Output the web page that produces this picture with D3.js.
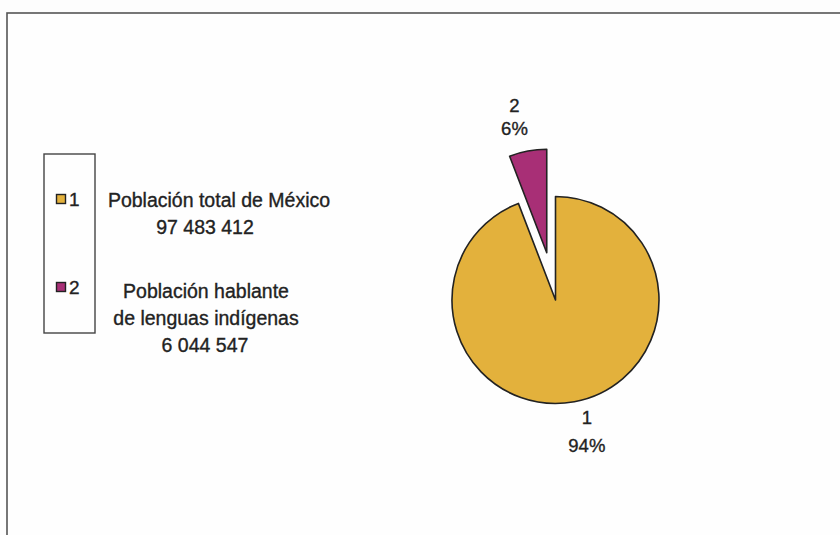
<!DOCTYPE html>
<html>
<head>
<meta charset="utf-8">
<script src="https://cdn.jsdelivr.net/npm/d3@7/dist/d3.min.js"></script>
<style>
  html, body { margin: 0; padding: 0; background: #fdfdfd; }
  svg { display: block; font-family: "Liberation Sans", Arial, sans-serif; }
  svg text { stroke: #222; stroke-width: 0.35px; }
</style>
</head>
<body>
<svg id="chart" width="840" height="535"></svg>
<script>
// Population of Mexico vs. population speaking indigenous languages
const categories = ["1", "2"];
const values = [97483412, 6044547];
const descriptions = [
  ["Población total de México"],
  ["Población hablante", "de lenguas indígenas"]
];
const colors = ["#E3B13C", "#A82F76"];

const svg = d3.select("#chart");
const ink = "#222";

// outer chart frame (open to the right and bottom edges)
svg.append("rect")
  .attr("x", 7).attr("y", 13)
  .attr("width", 860).attr("height", 560)
  .attr("fill", "#fefefe")
  .attr("stroke", "#555").attr("stroke-width", 1.6);

// ---- pie ----
const cx = 555.5, cy = 300, radius = 103.5, explode = 48;
const pie = d3.pie().sort(null).value(d => d);
const arcs = pie(values);
const arc = d3.arc().innerRadius(0).outerRadius(radius);
const pct = d3.format(".0%");
const total = d3.sum(values);

const g = svg.append("g").attr("transform", `translate(${cx},${cy})`);

function offsetFor(d, dist) {
  const a = (d.startAngle + d.endAngle) / 2;
  return [Math.sin(a) * dist, -Math.cos(a) * dist];
}

g.selectAll("path.slice")
  .data(arcs)
  .join("path")
  .attr("class", "slice")
  .attr("d", arc)
  .attr("transform", (d, i) => {
    const [dx, dy] = offsetFor(d, i === 1 ? explode : 0);
    return `translate(${dx},${dy})`;
  })
  .attr("fill", (d, i) => colors[i])
  .attr("stroke", ink)
  .attr("stroke-width", 1.6)
  .attr("stroke-linejoin", "round");

// data labels: category and percentage, outside each slice
const labelGap = [30, 35];
const labelLead = [28, 23];
const labels = g.selectAll("text.lbl")
  .data(arcs)
  .join("text")
  .attr("class", "lbl")
  .attr("text-anchor", "middle")
  .attr("font-size", 18.5)
  .attr("fill", ink)
  .attr("transform", (d, i) => {
    const [x, y] = offsetFor(d, radius + labelGap[i] + (i === 1 ? explode : 0));
    return `translate(${x + Math.sign(x) * 7},${y})`;
  });
labels.append("tspan").attr("x", 0).attr("dy", (d, i) => -labelLead[i] / 2 + 6.5)
  .text((d, i) => categories[i]);
labels.append("tspan").attr("x", 0).attr("dy", (d, i) => labelLead[i])
  .text(d => pct(d.value / total));

// ---- legend ----
const legend = svg.append("g");
legend.append("rect")
  .attr("x", 44).attr("y", 154).attr("width", 51).attr("height", 179)
  .attr("fill", "none").attr("stroke", "#444").attr("stroke-width", 1.4);

const legendY = d3.scalePoint().domain(categories).range([199, 287]);
const entry = legend.selectAll("g.entry")
  .data(categories)
  .join("g")
  .attr("class", "entry")
  .attr("transform", d => `translate(0,${legendY(d)})`);
entry.append("rect")
  .attr("x", 56.5).attr("y", -4.5).attr("width", 9).attr("height", 9)
  .attr("fill", (d, i) => colors[i])
  .attr("stroke", ink).attr("stroke-width", 1.4);
entry.append("text")
  .attr("x", 69).attr("y", 7)
  .attr("font-size", 19).attr("fill", ink)
  .text(d => d);

// descriptive text beside the legend
const fmtNum = v => d3.format(",")(v).replace(/,/g, " ");
const descX = [219, 206];
const descY = [207, 298];
descriptions.forEach((lines, i) => {
  const t = svg.append("text")
    .attr("text-anchor", "middle")
    .attr("font-size", 19.5)
    .attr("fill", ink)
    .attr("y", descY[i]);
  lines.forEach((line, j) => {
    t.append("tspan").attr("x", descX[i]).attr("dy", j === 0 ? 0 : 27).text(line);
  });
  t.append("tspan").attr("x", 205).attr("dy", 27).text(fmtNum(values[i]));
});
</script>
</body>
</html>
